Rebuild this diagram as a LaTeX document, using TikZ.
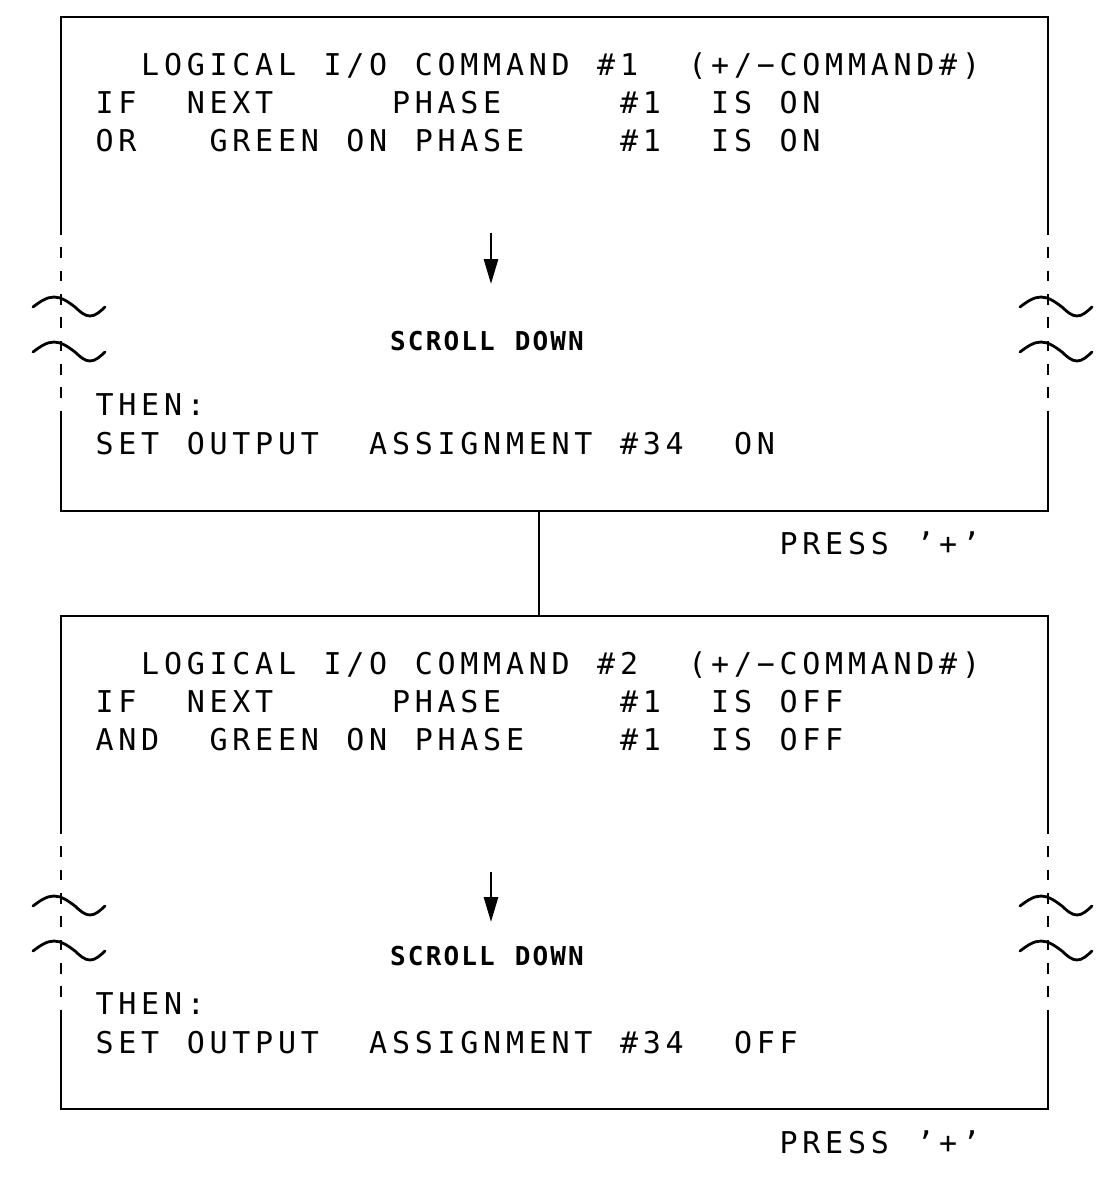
\documentclass[tikz,border=0pt]{standalone}
\usepackage{fontspec}
\usetikzlibrary{arrows.meta}
\newfontfamily\cadfamily{DejaVu Sans Mono}
\newfontfamily\scrfamily{DejaVu Sans Mono Bold}
\makeatletter
\newcommand\monotext[2]{\@tfor\mch:=#2\do{\makebox[#1][c]{\mch}}}
\makeatother
\newcommand\cad[1]{\monotext{17.1pt}{#1}}
\newcommand\scr[1]{\monotext{13.35pt}{#1}}
\tikzset{
  frame/.style={line width=2.1pt},
  dashside/.style={line width=2.1pt, dash pattern=on 7.9pt off 9.6pt},
  brk/.style={line width=2.1pt, line cap=round},
  txt/.style={anchor=base west, inner sep=0pt, font=\cadfamily\fontsize{22.5pt}{26pt}\selectfont},
  scrtxt/.style={anchor=base, inner sep=0pt, font=\scrfamily\fontsize{19.5pt}{22pt}\selectfont},
  arr/.style={line width=2.1pt, -{Triangle[length=18.75pt, width=10.5pt]}},
}
\begin{document}
\begin{tikzpicture}[x=0.75pt,y=-0.75pt]
\useasboundingbox (0,0) rectangle (1110,1183);

% ---------- Box 1 ----------
\coordinate (b1tl) at (61,17);
\coordinate (b1tr) at (1048,17);
\coordinate (b1bl) at (61,511);
\coordinate (b1br) at (1048,511);
\coordinate (b1lA) at (61,224);
\coordinate (b1lB) at (61,413);
\coordinate (b1rA) at (1048,224);
\coordinate (b1rB) at (1048,413);
\draw[frame] (b1lA) -- (b1tl) -- (b1tr) -- (b1rA);
\draw[frame] (b1lB) -- (b1bl) -- (b1br) -- (b1rB);
\draw[dashside] (b1lA) -- (b1lB);
\draw[dashside] (b1rA) -- (b1rB);
\foreach \X in {61,1048}{
  \foreach \P in {297,342}{
    \draw[brk] (\X-28,\P+10) sin (\X-7,\P) cos (\X+14,\P+10) sin (\X+29,\P+19) cos (\X+44,\P+10);
  }
}
\node[txt] (a1) at ({93+22.8*2},75) {\cad{LOGICAL}};
\node[txt] (a2) at ({93+22.8*10},75) {\cad{I/O}};
\node[txt] (a3) at ({93+22.8*14},75) {\cad{COMMAND}};
\node[txt] (a4) at ({93+22.8*22},75) {\cad{\#1}};
\node[txt] (a5) at ({93+22.8*26},75) {\cad{(+/−COMMAND\#)}};
\node[txt] (a6) at ({93+22.8*0},113) {\cad{IF}};
\node[txt] (a7) at ({93+22.8*4},113) {\cad{NEXT}};
\node[txt] (a8) at ({93+22.8*13},113) {\cad{PHASE}};
\node[txt] (a9) at ({93+22.8*23},113) {\cad{\#1}};
\node[txt] (a10) at ({93+22.8*27},113) {\cad{IS}};
\node[txt] (a11) at ({93+22.8*30},113) {\cad{ON}};
\node[txt] (a12) at ({93+22.8*0},151) {\cad{OR}};
\node[txt] (a13) at ({93+22.8*5},151) {\cad{GREEN}};
\node[txt] (a14) at ({93+22.8*11},151) {\cad{ON}};
\node[txt] (a15) at ({93+22.8*14},151) {\cad{PHASE}};
\node[txt] (a16) at ({93+22.8*23},151) {\cad{\#1}};
\node[txt] (a17) at ({93+22.8*27},151) {\cad{IS}};
\node[txt] (a18) at ({93+22.8*30},151) {\cad{ON}};
\coordinate (ar1s) at (491,233);
\coordinate (ar1e) at (491,284);
\draw[arr] (ar1s) -- (ar1e);
\node[scrtxt] (s1) at (487,350) {\scr{SCROLL}\makebox[13.35pt]{}\scr{DOWN}};
\node[txt] (a19) at ({93+22.8*0},415) {\cad{THEN:}};
\node[txt] (a20) at ({93+22.8*0},454) {\cad{SET}};
\node[txt] (a21) at ({93+22.8*4},454) {\cad{OUTPUT}};
\node[txt] (a22) at ({93+22.8*12},454) {\cad{ASSIGNMENT}};
\node[txt] (a23) at ({93+22.8*23},454) {\cad{\#34}};
\node[txt] (a24) at ({93+22.8*28},454) {\cad{ON}};
\node[txt] (p1a) at ({93+22.8*30},554) {\cad{PRESS}};
\node[txt] (p1b) at ({93+22.8*36},554) {\cad{’+’}};

% ---------- connector ----------
\coordinate (c1) at (539,511);
\coordinate (c2) at (539,616);
\draw[frame] (c1) -- (c2);

% ---------- Box 2 ----------
\coordinate (b2tl) at (61,616);
\coordinate (b2tr) at (1048,616);
\coordinate (b2bl) at (61,1109);
\coordinate (b2br) at (1048,1109);
\coordinate (b2lA) at (61,823);
\coordinate (b2lB) at (61,1012);
\coordinate (b2rA) at (1048,823);
\coordinate (b2rB) at (1048,1012);
\draw[frame] (b2lA) -- (b2tl) -- (b2tr) -- (b2rA);
\draw[frame] (b2lB) -- (b2bl) -- (b2br) -- (b2rB);
\draw[dashside] (b2lA) -- (b2lB);
\draw[dashside] (b2rA) -- (b2rB);
\foreach \X in {61,1048}{
  \foreach \P in {896,941}{
    \draw[brk] (\X-28,\P+10) sin (\X-7,\P) cos (\X+14,\P+10) sin (\X+29,\P+19) cos (\X+44,\P+10);
  }
}
\node[txt] (d1) at ({93+22.8*2},674) {\cad{LOGICAL}};
\node[txt] (d2) at ({93+22.8*10},674) {\cad{I/O}};
\node[txt] (d3) at ({93+22.8*14},674) {\cad{COMMAND}};
\node[txt] (d4) at ({93+22.8*22},674) {\cad{\#2}};
\node[txt] (d5) at ({93+22.8*26},674) {\cad{(+/−COMMAND\#)}};
\node[txt] (d6) at ({93+22.8*0},712) {\cad{IF}};
\node[txt] (d7) at ({93+22.8*4},712) {\cad{NEXT}};
\node[txt] (d8) at ({93+22.8*13},712) {\cad{PHASE}};
\node[txt] (d9) at ({93+22.8*23},712) {\cad{\#1}};
\node[txt] (d10) at ({93+22.8*27},712) {\cad{IS}};
\node[txt] (d11) at ({93+22.8*30},712) {\cad{OFF}};
\node[txt] (d12) at ({93+22.8*0},750) {\cad{AND}};
\node[txt] (d13) at ({93+22.8*5},750) {\cad{GREEN}};
\node[txt] (d14) at ({93+22.8*11},750) {\cad{ON}};
\node[txt] (d15) at ({93+22.8*14},750) {\cad{PHASE}};
\node[txt] (d16) at ({93+22.8*23},750) {\cad{\#1}};
\node[txt] (d17) at ({93+22.8*27},750) {\cad{IS}};
\node[txt] (d18) at ({93+22.8*30},750) {\cad{OFF}};
\coordinate (ar2s) at (491,872);
\coordinate (ar2e) at (491,922);
\draw[arr] (ar2s) -- (ar2e);
\node[scrtxt] (s2) at (487,965) {\scr{SCROLL}\makebox[13.35pt]{}\scr{DOWN}};
\node[txt] (d19) at ({93+22.8*0},1014) {\cad{THEN:}};
\node[txt] (d20) at ({93+22.8*0},1053) {\cad{SET}};
\node[txt] (d21) at ({93+22.8*4},1053) {\cad{OUTPUT}};
\node[txt] (d22) at ({93+22.8*12},1053) {\cad{ASSIGNMENT}};
\node[txt] (d23) at ({93+22.8*23},1053) {\cad{\#34}};
\node[txt] (d24) at ({93+22.8*28},1053) {\cad{OFF}};
\node[txt] (p2a) at ({93+22.8*30},1153) {\cad{PRESS}};
\node[txt] (p2b) at ({93+22.8*36},1153) {\cad{’+’}};
\end{tikzpicture}
\end{document}
